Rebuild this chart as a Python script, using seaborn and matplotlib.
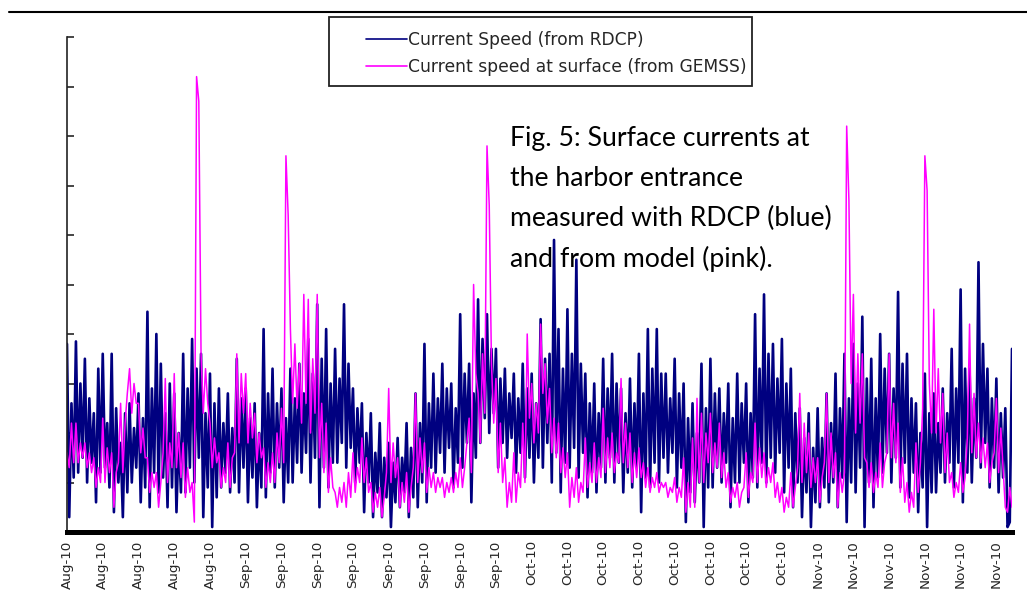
import pandas as pd
import numpy as np
import matplotlib
matplotlib.use("Agg")
import matplotlib.pyplot as plt
import matplotlib.dates as mdates
from matplotlib.patches import Rectangle
from matplotlib.lines import Line2D
import seaborn as sns

# ----------------------------------------------------------------------
# Data (6-hourly, from 12 Aug 2010)
# ----------------------------------------------------------------------
START = "2010-08-12"
STEP = "6h"

# current speed measured by RDCP (navy)
rdcp = [
    3.8, 0.3, 2.6, 1.1,   3.85, 1.2, 3.0, 1.5,   3.5, 1.0, 2.7, 1.4,   2.4, 0.6, 3.3, 1.2,
    3.6, 1.3, 2.2, 0.9,   3.6, 0.4, 2.5, 1.0,    1.8, 0.3, 2.4, 0.8,   2.6, 1.0, 2.1, 1.3,
    2.8, 0.6, 2.3, 0.9,   4.45, 0.5, 2.9, 1.2,   4.0, 0.8, 3.4, 1.1,   2.4, 0.5, 3.0, 0.9,
    2.8, 0.4, 2.0, 0.8,   3.6, 0.8, 2.9, 1.3,    3.9, 1.0, 3.3, 1.5,   3.6, 0.3, 2.4, 0.9,
    3.2, 0.1, 2.6, 0.7,   2.9, 0.9, 2.2, 1.2,    2.8, 0.8, 2.1, 1.0,   3.5, 0.8, 2.7, 1.3,
    2.9, 0.6, 2.3, 1.1,   2.6, 0.5, 2.0, 0.9,    4.1, 0.7, 2.8, 1.2,   3.3, 0.9, 2.6, 1.3,
    2.9, 0.6, 2.3, 1.0,   3.3, 1.0, 2.7, 1.4,    3.4, 1.2, 2.8, 1.6,   3.9, 1.0, 3.2, 1.5,
    4.6, 0.5, 3.5, 1.3,   4.1, 0.9, 3.0, 1.4,    3.7, 1.4, 3.1, 1.8,   4.6, 1.3, 3.4, 1.7,
    2.9, 1.0, 2.5, 1.4,   2.6, 0.4, 2.0, 1.0,    2.4, 0.3, 1.6, 0.8,   2.2, 0.3, 1.5, 0.7,
    1.8, 0.1, 1.4, 0.6,   1.9, 0.5, 1.5, 0.8,    2.2, 0.3, 1.7, 0.7,   2.8, 0.5, 2.2, 1.0,
    3.8, 0.6, 2.6, 1.3,   3.2, 1.2, 2.7, 1.6,    3.4, 1.2, 2.9, 1.7,   3.0, 0.9, 2.5, 1.4,
    4.4, 1.3, 3.2, 1.8,   3.4, 0.6, 2.8, 1.5,    4.7, 1.8, 3.9, 2.3,   4.4, 2.0, 3.7, 2.4,
    3.7, 1.3, 3.1, 1.8,   3.3, 1.5, 2.8, 1.9,    3.2, 1.2, 2.7, 1.6,   3.4, 1.1, 2.9, 1.5,
    3.2, 1.0, 2.6, 1.5,   4.3, 1.3, 3.5, 1.8,    3.6, 1.0, 5.9, 1.6,   4.1, 0.8, 3.3, 1.4,
    4.5, 1.3, 3.6, 1.7,   5.5, 1.1, 3.4, 1.6,    3.2, 0.7, 2.6, 1.2,   3.0, 0.8, 2.4, 1.3,
    3.5, 1.0, 2.9, 1.5,   3.6, 1.0, 3.0, 1.4,    2.9, 0.8, 2.4, 1.2,   3.1, 0.9, 2.6, 1.3,
    3.6, 0.4, 2.8, 1.1,   4.1, 0.9, 3.3, 1.4,    4.1, 1.0, 3.2, 1.5,   3.2, 1.2, 2.7, 1.6,
    3.5, 0.9, 2.8, 1.3,   3.0, 0.2, 2.3, 0.8,    2.6, 0.6, 2.0, 1.0,   3.4, 0.1, 2.5, 0.9,
    3.5, 0.9, 2.8, 1.3,   2.9, 1.0, 2.4, 1.4,    3.0, 0.5, 2.3, 1.0,   3.2, 1.0, 2.6, 1.4,
    3.0, 0.6, 2.4, 1.1,   4.4, 0.9, 3.3, 1.4,    4.8, 1.0, 3.6, 1.5,   3.8, 1.2, 3.1, 1.6,
    3.9, 0.8, 3.0, 1.3,   3.3, 0.5, 2.4, 1.0,    2.5, 0.3, 1.9, 0.8,   2.4, 0.1, 1.7, 0.6,
    2.5, 0.5, 1.9, 0.9,   2.8, 0.6, 2.2, 1.0,    3.2, 0.5, 2.5, 1.1,   3.6, 0.2, 2.7, 1.0,
    3.8, 0.8, 3.0, 1.3,   4.35, 0.1, 3.1, 1.0,   3.5, 0.5, 2.7, 1.1,   4.0, 1.2, 3.3, 1.6,
    3.6, 1.0, 2.9, 1.5,   4.85, 0.9, 3.4, 1.4,   3.6, 0.7, 2.7, 1.2,   2.6, 0.4, 2.0, 0.9,
    3.2, 0.1, 2.4, 0.8,   2.8, 0.8, 2.2, 1.2,    2.9, 1.0, 2.4, 1.4,   3.7, 0.9, 2.9, 1.4,
    4.9, 0.6, 3.3, 1.2,   3.3, 1.0, 2.7, 1.5,    5.45, 1.3, 3.8, 1.8,  3.3, 0.9, 2.7, 1.3,
    3.1, 0.8, 2.4, 1.1,   2.5, 0.1, 0.2, 3.7,
]

# current speed at surface from GEMSS model (magenta)
gemss = [
    1.6, 1.3, 2.2, 1.4,   2.2, 1.4, 1.8, 1.5,   1.8, 1.3, 1.6, 1.2,   1.5, 0.9, 1.3, 1.0,
    2.3, 1.0, 1.7, 1.2,   1.6, 0.5, 1.2, 1.4,   2.6, 1.2, 2.2, 2.8,   3.3, 2.4, 3.0, 2.6,
    2.6, 1.6, 2.1, 1.5,   1.5, 0.8, 1.2, 0.9,   1.2, 0.5, 1.0, 1.6,   3.1, 1.0, 1.8, 1.3,
    3.2, 1.3, 2.0, 1.1,   1.8, 0.7, 1.3, 0.8,   1.0, 0.2, 9.2, 8.7,   3.6, 2.4, 3.3, 2.6,
    2.2, 1.3, 1.9, 1.4,   1.6, 0.9, 1.3, 1.0,   1.8, 0.9, 1.5, 1.6,   3.6, 1.8, 3.2, 2.4,
    3.2, 1.8, 2.6, 1.9,   2.4, 1.4, 2.0, 1.5,   1.7, 0.9, 1.4, 1.0,   1.6, 1.0, 2.0, 1.4,
    2.5, 1.4, 7.6, 6.4,   4.1, 2.6, 3.8, 2.5,   3.4, 2.2, 4.8, 2.6,   4.7, 2.0, 3.5, 2.4,
    4.8, 1.5, 2.6, 1.2,   2.2, 0.8, 1.5, 0.9,   0.8, 0.5, 0.9, 0.6,   1.0, 0.5, 1.2, 0.7,
    1.6, 0.8, 1.3, 1.0,   1.9, 1.0, 1.5, 0.8,   1.0, 0.4, 0.8, 0.5,   0.9, 0.3, 0.7, 1.2,
    2.9, 1.0, 1.8, 1.1,   1.5, 0.5, 1.0, 0.6,   1.2, 0.4, 0.9, 1.3,   2.8, 1.0, 1.9, 1.2,
    1.8, 0.8, 1.3, 0.9,   1.2, 0.8, 1.1, 0.9,   1.1, 0.7, 1.0, 0.8,   1.1, 0.8, 1.2, 0.9,
    1.5, 0.9, 1.3, 1.8,   2.3, 1.2, 5.0, 3.2,   2.8, 1.8, 3.6, 2.4,   7.8, 6.6, 3.4, 2.2,
    3.1, 1.2, 2.2, 1.0,   1.5, 0.5, 1.0, 0.6,   1.6, 0.6, 1.2, 0.9,   2.2, 1.0, 4.0, 2.3,
    3.0, 1.8, 2.6, 2.0,   4.2, 2.8, 3.4, 2.2,   2.9, 1.6, 2.3, 1.5,   2.2, 1.2, 1.7, 1.1,
    1.6, 0.5, 1.1, 0.7,   1.3, 0.6, 1.0, 0.8,   1.9, 0.9, 1.4, 1.0,   1.8, 1.0, 1.5, 1.1,
    2.5, 1.2, 1.9, 1.3,   2.0, 1.2, 1.6, 1.4,   3.1, 1.4, 2.2, 1.3,   2.0, 1.0, 1.6, 1.1,
    1.7, 1.1, 1.4, 0.9,   1.3, 0.8, 1.1, 0.9,   1.2, 0.8, 1.0, 0.9,   1.0, 0.7, 0.9, 0.8,
    1.1, 0.6, 0.9, 0.7,   1.5, 0.4, 1.0, 0.5,   1.9, 0.5, 2.7, 1.0,   2.4, 1.0, 2.0, 1.4,
    2.4, 1.2, 1.8, 1.3,   2.2, 1.1, 1.6, 0.9,   1.2, 0.6, 0.9, 0.7,   1.0, 0.5, 0.8, 0.9,
    1.6, 0.7, 1.2, 1.0,   2.2, 1.0, 1.7, 1.1,   1.6, 0.9, 1.3, 1.0,   1.4, 0.7, 1.0, 0.6,
    0.9, 0.4, 0.7, 0.5,   1.2, 0.5, 0.9, 1.3,   2.8, 1.0, 2.2, 1.2,   2.0, 0.9, 1.5, 1.0,
    1.5, 0.6, 1.1, 1.4,   2.8, 1.0, 2.0, 1.1,   1.6, 0.5, 1.2, 0.8,   1.2, 8.2, 6.7, 3.0,
    4.8, 2.0, 3.6, 2.2,   3.6, 1.5, 1.4, 0.9,   1.4, 0.8, 1.2, 0.9,   1.8, 0.9, 1.4, 1.6,
    3.6, 1.5, 2.6, 1.4,   2.2, 0.8, 1.5, 0.6,   1.0, 0.4, 0.8, 0.5,   1.8, 0.8, 1.4, 2.5,
    7.6, 6.9, 3.0, 2.0,   4.5, 2.0, 3.3, 1.8,   2.8, 1.2, 2.0, 1.0,   1.2, 0.7, 1.0, 0.8,
    1.4, 0.8, 1.1, 1.9,   4.2, 1.6, 2.8, 1.5,   2.2, 1.4, 1.9, 1.3,   1.8, 1.0, 1.4, 1.6,
    2.7, 1.2, 2.1, 1.3,   0.5, 0.4, 0.9, 0.5,
]

# tick positions on the date axis (every 4 days, shown as Mon-yy)
tick_dates = pd.date_range("2010-08-12", "2010-11-24", freq="4D")

LABEL_RDCP = "Current Speed (from RDCP)"
LABEL_GEMSS = "Current speed at surface (from GEMSS)"
NOTE = ("Fig. 5: Surface currents at\nthe harbor entrance\n"
        "measured with RDCP (blue)\nand from model (pink).")

df_rdcp = pd.DataFrame({"time": pd.date_range(START, periods=len(rdcp), freq=STEP),
                        "speed": rdcp})
df_gemss = pd.DataFrame({"time": pd.date_range(START, periods=len(gemss), freq=STEP),
                         "speed": gemss})

# ----------------------------------------------------------------------
# Figure
# ----------------------------------------------------------------------
sns.set_style("white")
plt.rcParams["font.family"] = ["DejaVu Sans"]

W, H = 1027, 594
fig = plt.figure(figsize=(W / 100, H / 100), dpi=100)
ax = fig.add_axes([67 / W, 62 / H, 945 / W, 495 / H])

sns.lineplot(data=df_rdcp, x="time", y="speed", color="#000080", lw=1.9,
             estimator=None, ax=ax, label=LABEL_RDCP)
sns.lineplot(data=df_gemss, x="time", y="speed", color="#FF00FF", lw=1.1,
             estimator=None, ax=ax, label=LABEL_GEMSS)

ax.set_ylim(0, 10)
ax.set_yticks(np.arange(0, 11, 1))
ax.set_xlim(df_rdcp["time"].iloc[0], df_rdcp["time"].iloc[-1])
ax.set_xticks(tick_dates)
ax.xaxis.set_major_formatter(mdates.DateFormatter("%b-%y"))
ax.tick_params(axis="y", direction="in", length=5, width=1.2, labelleft=False, left=True)
ax.tick_params(axis="x", length=0, pad=6, labelsize=9.7, rotation=90)
ax.set_xlabel("")
ax.set_ylabel("")

for side in ["top", "right"]:
    ax.spines[side].set_visible(False)
ax.spines["left"].set_color("#222222")
ax.spines["left"].set_linewidth(1.2)
ax.spines["bottom"].set_color("black")
ax.spines["bottom"].set_linewidth(3.6)
ax.spines["bottom"].set_zorder(10)

# legend box
box = Rectangle((329 / W, 1 - 86 / H), 423 / W, 69 / H, transform=fig.transFigure,
                facecolor="white", edgecolor="#222222", lw=1.3, clip_on=False, zorder=6)
ax.add_patch(box)
leg = ax.legend(loc="upper left", bbox_to_anchor=(351 / W, 1 - 16 / H),
                bbox_transform=fig.transFigure, frameon=False, fontsize=12.3,
                handlelength=2.35, handletextpad=0.1, labelspacing=0.48, borderpad=0.4)
for line in leg.get_lines():
    line.set_linewidth(1.2)
leg.set_zorder(7)

# caption inside the plot
fig.text(510 / W, 1 - 126 / H, NOTE, ha="left", va="top", fontsize=19.2,
         family=["Lato", "DejaVu Sans"], linespacing=1.74, color="black", zorder=0)

# rule at the top of the page
fig.add_artist(Line2D([9 / W, 1.0], [1 - 12 / H, 1 - 12 / H], transform=fig.transFigure,
                      color="black", lw=1.5))

fig.savefig("out.png", dpi=100)
